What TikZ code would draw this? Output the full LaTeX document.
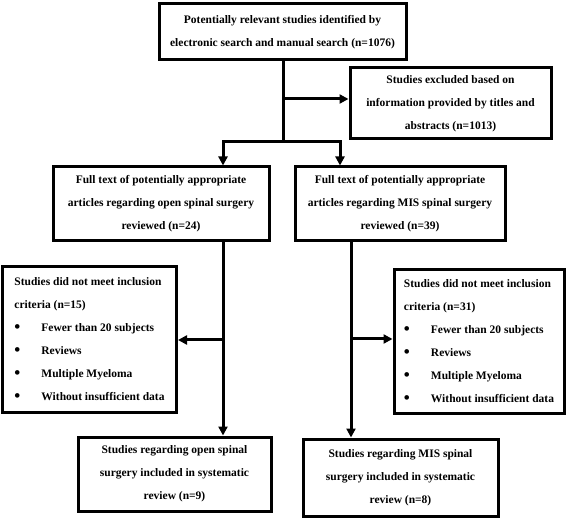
\documentclass[tikz,border=0pt]{standalone}
\usepackage{fontspec}
\setmainfont{Liberation Serif}
\usetikzlibrary{arrows.meta}
\newcommand{\itm}[1]{\makebox[27pt][l]{\raisebox{-1.8pt}{\fontsize{17}{17}\selectfont\textbullet}}#1}
\begin{document}
\begin{tikzpicture}[x=1pt, y=-1pt,
    box/.style={draw, line width=3pt, align=center, inner sep=0pt, font=\bfseries\fontsize{11.5}{23}\selectfont},
    listbox/.style={box, align=left},
    line/.style={line width=3pt},
    arrow/.style={line, -{Triangle[length=9pt,width=9pt]}}
]
    \useasboundingbox (0,0) rectangle (570,518);

    \node[box, minimum width=247pt, minimum height=56pt] (ident) at (282.5,32) {Potentially relevant studies identified by\\electronic search and manual search (n=1076)};
    \node[box, minimum width=201pt, minimum height=71pt] (excl) at (450.5,103.5) {Studies excluded based on\\information provided by titles and\\abstracts (n=1013)};
    \node[box, minimum width=216pt, minimum height=74pt] (fullopen) at (161,204) {Full text of potentially appropriate\\articles regarding open spinal surgery\\reviewed (n=24)};
    \node[box, minimum width=210pt, minimum height=74pt] (fullmis) at (400,204) {Full text of potentially appropriate\\articles regarding MIS spinal surgery\\reviewed (n=39)};
    \node[listbox, minimum width=174pt, minimum height=145pt] (notopen) at (89.5,339.5) {Studies did not meet inclusion\\criteria (n=15)\\\itm{Fewer than 20 subjects}\\\itm{Reviews}\\\itm{Multiple Myeloma}\\\itm{Without insufficient data}};
    \node[listbox, minimum width=170pt, minimum height=143pt] (notmis) at (479,341.5) {Studies did not meet inclusion\\criteria (n=31)\\\itm{Fewer than 20 subjects}\\\itm{Reviews}\\\itm{Multiple Myeloma}\\\itm{Without insufficient data}};
    \node[box, minimum width=193pt, minimum height=74pt] (inclopen) at (174.5,474) {Studies regarding open spinal\\surgery included in systematic\\review (n=9)};
    \node[box, minimum width=195pt, minimum height=77pt] (inclmis) at (400.5,477.5) {Studies regarding MIS spinal\\surgery included in systematic\\review (n=8)};

    % junctions
    \coordinate (trunk) at (283,142);
    \coordinate (toexcl) at (283,99);
    \coordinate (colopen) at (223,142);
    \coordinate (colmis) at (340,142);
    \coordinate (sideopen) at (223,340);
    \coordinate (sidemis) at (351,339);

    \draw[line] (ident.south -| trunk) -- (trunk);
    \draw[arrow] (toexcl) -- (toexcl -| excl.west);
    \draw[arrow] (trunk) -- (colopen) -- (colopen |- fullopen.north);
    \draw[arrow] (trunk) -- (colmis) -- (colmis |- fullmis.north);
    \draw[arrow] (sideopen |- fullopen.south) -- (sideopen |- inclopen.north);
    \draw[arrow] (sideopen) -- (sideopen -| notopen.east);
    \draw[arrow] (sidemis |- fullmis.south) -- (sidemis |- inclmis.north);
    \draw[arrow] (sidemis) -- (sidemis -| notmis.west);
\end{tikzpicture}
\end{document}
